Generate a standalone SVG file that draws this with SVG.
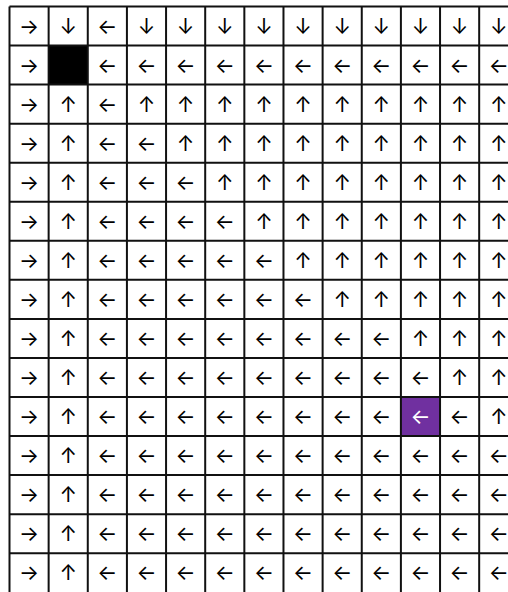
<svg xmlns="http://www.w3.org/2000/svg" width="508" height="592" viewBox="0 0 508 592">
<style>
text{font-family:Inter,"DejaVu Sans",sans-serif;font-size:21px;text-anchor:middle;dominant-baseline:central;fill:#000}
.w{fill:#fff}
.ln{stroke:#111;stroke-width:2;fill:none}
</style>
<rect width="508" height="592" fill="#fff"/>
<g id="special-cells">
<rect id="wall" x="48.64" y="45.55" width="39.14" height="39.05" fill="#000"/>
<rect id="goal" x="400.9" y="397" width="39.14" height="39.05" fill="#7030a0"/>
</g>
<g id="gridlines" class="ln">
<path d="M9.5 6.5V592M48.64 6.5V592M87.78 6.5V592M126.92 6.5V592M166.06 6.5V592M205.2 6.5V592M244.34 6.5V592M283.48 6.5V592M322.62 6.5V592M361.76 6.5V592M400.9 6.5V592M440.04 6.5V592M479.18 6.5V592"/>
<path d="M9.5 6.5H508M9.5 45.55H508M9.5 84.6H508M9.5 123.65H508M9.5 162.7H508M9.5 201.75H508M9.5 240.8H508M9.5 279.85H508M9.5 318.9H508M9.5 357.95H508M9.5 397H508M9.5 436.05H508M9.5 475.1H508M9.5 514.15H508M9.5 553.2H508"/>
</g>
<g id="arrows">
<g id="r0" transform="translate(0 26.03)"><text x="29.07">→</text><text x="68.21">↓</text><text x="107.35">←</text><text x="146.49">↓</text><text x="185.63">↓</text><text x="224.77">↓</text><text x="263.91">↓</text><text x="303.05">↓</text><text x="342.19">↓</text><text x="381.33">↓</text><text x="420.47">↓</text><text x="459.61">↓</text><text x="498.75">↓</text></g>
<g id="r1" transform="translate(0 65.08)"><text x="29.07">→</text><text x="107.35">←</text><text x="146.49">←</text><text x="185.63">←</text><text x="224.77">←</text><text x="263.91">←</text><text x="303.05">←</text><text x="342.19">←</text><text x="381.33">←</text><text x="420.47">←</text><text x="459.61">←</text><text x="498.75">←</text></g>
<g id="r2" transform="translate(0 104.13)"><text x="29.07">→</text><text x="68.21">↑</text><text x="107.35">←</text><text x="146.49">↑</text><text x="185.63">↑</text><text x="224.77">↑</text><text x="263.91">↑</text><text x="303.05">↑</text><text x="342.19">↑</text><text x="381.33">↑</text><text x="420.47">↑</text><text x="459.61">↑</text><text x="498.75">↑</text></g>
<g id="r3" transform="translate(0 143.18)"><text x="29.07">→</text><text x="68.21">↑</text><text x="107.35">←</text><text x="146.49">←</text><text x="185.63">↑</text><text x="224.77">↑</text><text x="263.91">↑</text><text x="303.05">↑</text><text x="342.19">↑</text><text x="381.33">↑</text><text x="420.47">↑</text><text x="459.61">↑</text><text x="498.75">↑</text></g>
<g id="r4" transform="translate(0 182.23)"><text x="29.07">→</text><text x="68.21">↑</text><text x="107.35">←</text><text x="146.49">←</text><text x="185.63">←</text><text x="224.77">↑</text><text x="263.91">↑</text><text x="303.05">↑</text><text x="342.19">↑</text><text x="381.33">↑</text><text x="420.47">↑</text><text x="459.61">↑</text><text x="498.75">↑</text></g>
<g id="r5" transform="translate(0 221.28)"><text x="29.07">→</text><text x="68.21">↑</text><text x="107.35">←</text><text x="146.49">←</text><text x="185.63">←</text><text x="224.77">←</text><text x="263.91">↑</text><text x="303.05">↑</text><text x="342.19">↑</text><text x="381.33">↑</text><text x="420.47">↑</text><text x="459.61">↑</text><text x="498.75">↑</text></g>
<g id="r6" transform="translate(0 260.33)"><text x="29.07">→</text><text x="68.21">↑</text><text x="107.35">←</text><text x="146.49">←</text><text x="185.63">←</text><text x="224.77">←</text><text x="263.91">←</text><text x="303.05">↑</text><text x="342.19">↑</text><text x="381.33">↑</text><text x="420.47">↑</text><text x="459.61">↑</text><text x="498.75">↑</text></g>
<g id="r7" transform="translate(0 299.38)"><text x="29.07">→</text><text x="68.21">↑</text><text x="107.35">←</text><text x="146.49">←</text><text x="185.63">←</text><text x="224.77">←</text><text x="263.91">←</text><text x="303.05">←</text><text x="342.19">↑</text><text x="381.33">↑</text><text x="420.47">↑</text><text x="459.61">↑</text><text x="498.75">↑</text></g>
<g id="r8" transform="translate(0 338.43)"><text x="29.07">→</text><text x="68.21">↑</text><text x="107.35">←</text><text x="146.49">←</text><text x="185.63">←</text><text x="224.77">←</text><text x="263.91">←</text><text x="303.05">←</text><text x="342.19">←</text><text x="381.33">←</text><text x="420.47">↑</text><text x="459.61">↑</text><text x="498.75">↑</text></g>
<g id="r9" transform="translate(0 377.48)"><text x="29.07">→</text><text x="68.21">↑</text><text x="107.35">←</text><text x="146.49">←</text><text x="185.63">←</text><text x="224.77">←</text><text x="263.91">←</text><text x="303.05">←</text><text x="342.19">←</text><text x="381.33">←</text><text x="420.47">←</text><text x="459.61">↑</text><text x="498.75">↑</text></g>
<g id="r10" transform="translate(0 416.53)"><text x="29.07">→</text><text x="68.21">↑</text><text x="107.35">←</text><text x="146.49">←</text><text x="185.63">←</text><text x="224.77">←</text><text x="263.91">←</text><text x="303.05">←</text><text x="342.19">←</text><text x="381.33">←</text><text x="420.47" class="w">←</text><text x="459.61">←</text><text x="498.75">↑</text></g>
<g id="r11" transform="translate(0 455.58)"><text x="29.07">→</text><text x="68.21">↑</text><text x="107.35">←</text><text x="146.49">←</text><text x="185.63">←</text><text x="224.77">←</text><text x="263.91">←</text><text x="303.05">←</text><text x="342.19">←</text><text x="381.33">←</text><text x="420.47">←</text><text x="459.61">←</text><text x="498.75">←</text></g>
<g id="r12" transform="translate(0 494.63)"><text x="29.07">→</text><text x="68.21">↑</text><text x="107.35">←</text><text x="146.49">←</text><text x="185.63">←</text><text x="224.77">←</text><text x="263.91">←</text><text x="303.05">←</text><text x="342.19">←</text><text x="381.33">←</text><text x="420.47">←</text><text x="459.61">←</text><text x="498.75">←</text></g>
<g id="r13" transform="translate(0 533.68)"><text x="29.07">→</text><text x="68.21">↑</text><text x="107.35">←</text><text x="146.49">←</text><text x="185.63">←</text><text x="224.77">←</text><text x="263.91">←</text><text x="303.05">←</text><text x="342.19">←</text><text x="381.33">←</text><text x="420.47">←</text><text x="459.61">←</text><text x="498.75">←</text></g>
<g id="r14" transform="translate(0 572.73)"><text x="29.07">→</text><text x="68.21">↑</text><text x="107.35">←</text><text x="146.49">←</text><text x="185.63">←</text><text x="224.77">←</text><text x="263.91">←</text><text x="303.05">←</text><text x="342.19">←</text><text x="381.33">←</text><text x="420.47">←</text><text x="459.61">←</text><text x="498.75">←</text></g>
</g>
</svg>
